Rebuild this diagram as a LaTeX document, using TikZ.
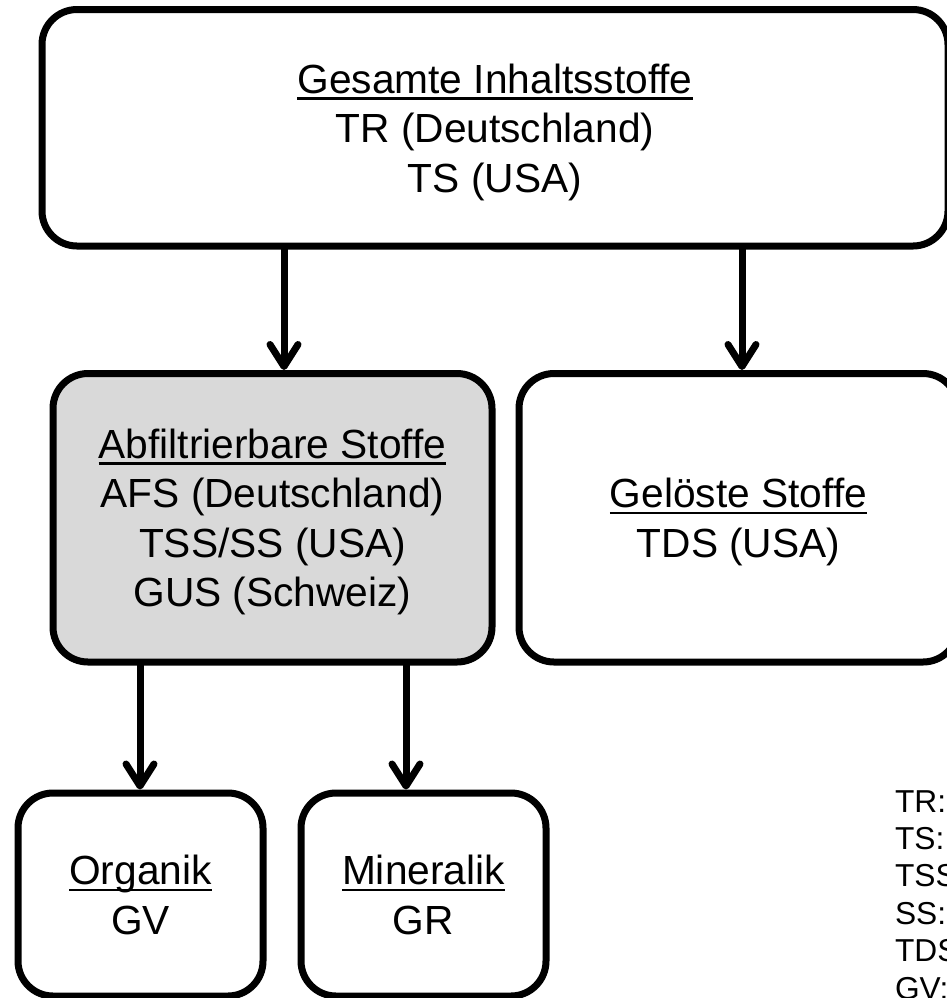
\documentclass[tikz,border=0pt]{standalone}
\usepackage{fontspec}
\setmainfont{Liberation Sans}
\usepackage{xcolor}
\usepackage{tikz}
\usetikzlibrary{positioning,arrows.meta}
\definecolor{boxgray}{RGB}{217,217,217}
\definecolor{linegray}{RGB}{0,0,0}
\newcommand{\boxfont}{\fontsize{20.35}{24.75}\selectfont\setbox\strutbox\hbox{\vrule height 19.8pt depth 4.95pt width 0pt}}
\newcommand{\legendfont}{\fontsize{15.85}{18.7}\selectfont}
\newcommand{\undrl}[1]{\setbox0\hbox{#1}\rlap{\rule[-3.3pt]{\wd0}{1.3pt}}\box0}

\begin{document}
\begin{tikzpicture}[
            x=0.5pt, y=-0.5pt,
            node distance=13.5pt,
            box/.style={rectangle, draw=linegray, fill=white, line width=3.5pt,
                       rounded corners=17.5pt, inner sep=0pt, outer sep=0pt, font=\boxfont},
            solidbox/.style={box, fill=boxgray},
            arrow/.style={-{Straight Barb[length=11pt, width=14pt, line cap=round, line join=round]},
                         line width=3.5pt, linegray, shorten >=1.75pt},
            legendtxt/.style={inner sep=0pt, outer sep=0pt, font=\legendfont}
        ]
            \useasboundingbox (0,0) rectangle (947,998);
            \clip (0,0) rectangle (947,998);

            % Gesamte Inhaltsstoffe
            \node[box, minimum width=453pt, minimum height=118.25pt] (total) at (495,127.75) {
                \begin{tabular}{c}
                    \undrl{Gesamte Inhaltsstoffe} \\
                    TR (Deutschland) \\
                    TS (USA)
                \end{tabular}
            };

            % Abfiltrierbare und geloeste Stoffe
            \node[solidbox, minimum width=219.5pt, minimum height=144.25pt,
                  below right=63.75pt and 5.5pt of total.south west] (filterable) {
                \begin{tabular}{c}
                    \undrl{Abfiltrierbare Stoffe} \\
                    AFS (Deutschland) \\
                    TSS/SS (USA) \\
                    GUS (Schweiz)
                \end{tabular}
            };

            \node[box, minimum width=219.5pt, minimum height=144.25pt,
                  right=of filterable] (dissolved) {
                \begin{tabular}{c}
                    \undrl{Gelöste Stoffe} \\
                    TDS (USA)
                \end{tabular}
            };

            \draw[arrow] ([xshift=-105.5pt]total.south) -- ([xshift=5.75pt]filterable.north);
            \draw[arrow] ([xshift=123.5pt]total.south) -- ([xshift=1.75pt]dissolved.north);

            % Organik und Mineralik
            \node[box, minimum width=122.5pt, minimum height=101.5pt,
                  below right=65.5pt and -17.5pt of filterable.south west] (organic) {
                \begin{tabular}{c}
                    \undrl{Organik} \\
                    GV
                \end{tabular}
            };

            \node[box, minimum width=122.5pt, minimum height=101.5pt,
                  right=19pt of organic] (mineral) {
                \begin{tabular}{c}
                    \undrl{Mineralik} \\
                    GR
                \end{tabular}
            };

            \draw[arrow] ([xshift=-66.25pt]filterable.south) -- ([xshift=-0.25pt]organic.north);
            \draw[arrow] ([xshift=66.75pt]filterable.south) -- ([xshift=-8.75pt]mineral.north);

            % Abkuerzungen
            \node[legendtxt, anchor=base west] (legend) at (895,812) {
                \begin{tabular}[t]{@{}l@{}}
                    TR: \\
                    TS: \\
                    TSS \\
                    SS: \\
                    TDS \\
                    GV:
                \end{tabular}
            };
        \end{tikzpicture}
\end{document}
